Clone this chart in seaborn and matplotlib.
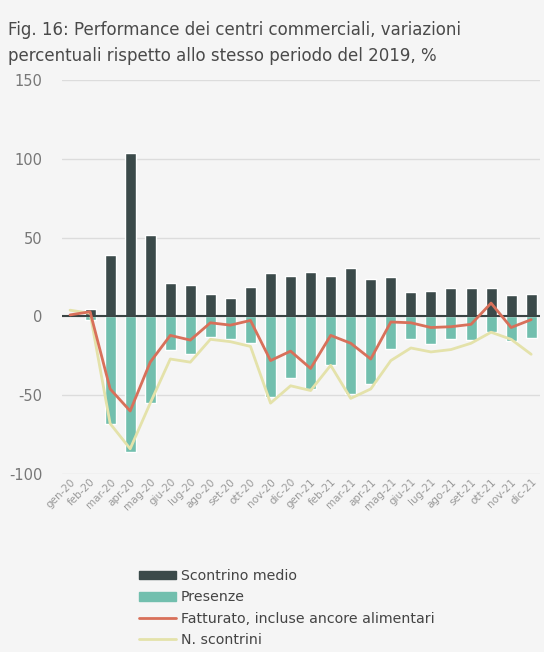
import numpy as np
import pandas as pd
import matplotlib
matplotlib.use("Agg")
import matplotlib.pyplot as plt
import seaborn as sns
from matplotlib.patches import Patch
from matplotlib.lines import Line2D

mesi = ["gen-20", "feb-20", "mar-20", "apr-20", "mag-20", "giu-20", "lug-20", "ago-20",
        "set-20", "ott-20", "nov-20", "dic-20", "gen-21", "feb-21", "mar-21", "apr-21",
        "mag-21", "giu-21", "lug-21", "ago-21", "set-21", "ott-21", "nov-21", "dic-21"]

scontrino_medio = [1, 5, 39, 104, 52, 21.5, 20, 14.5, 12, 19, 27.5, 26,
                   28, 26, 31, 24, 25, 15.5, 16, 18, 18, 18, 13.5, 14.5]
presenze = [0, -2, -68, -86, -55, -21, -24, -13, -14, -17, -51, -39,
            -46, -31, -49, -43, -20.5, -14.5, -17.5, -14.5, -15, -10, -15.5, -13.5]
fatturato = [1, 3, -46, -60, -29, -12, -15, -4, -5.5, -2.5, -28, -22,
             -33, -12, -17, -27, -3.5, -4, -7, -6.5, -5, 8.5, -7, -2]
n_scontrini = [4, 2, -68, -84, -55, -27, -29, -14.5, -16, -19, -55, -44,
               -47, -31, -52, -46, -28, -20, -22.5, -21, -17, -10, -14.5, -24]

df = pd.DataFrame({
    "mese": mesi,
    "Scontrino medio": scontrino_medio,
    "Presenze": presenze,
    "Fatturato": fatturato,
    "N. scontrini": n_scontrini,
})

c_dark = "#3b4a4a"
c_teal = "#72bfae"
c_red = "#d8705a"
c_yel = "#e4e2aa"
bg = "#f5f5f5"

sns.set_style("white")
plt.rcParams["font.family"] = ["DejaVu Sans"]
plt.rcParams["axes.unicode_minus"] = False

fig = plt.figure(figsize=(5.44, 6.52), dpi=100, facecolor=bg)
ax = fig.add_axes([0.114, 0.273, 0.879, 0.604], facecolor=bg)

sns.barplot(data=df, x="mese", y="Scontrino medio", color=c_dark, saturation=1,
            width=0.55, ax=ax, zorder=2)
sns.barplot(data=df, x="mese", y="Presenze", color=c_teal, saturation=1,
            width=0.55, ax=ax, zorder=2)
sns.lineplot(data=df, x="mese", y="Fatturato", color=c_red, lw=2, ax=ax, zorder=4)
sns.lineplot(data=df, x="mese", y="N. scontrini", color=c_yel, lw=2, ax=ax, zorder=3)

ax.set_ylim(-100, 150)
ax.set_xlim(-0.4, 23.45)
ax.set_yticks([-100, -50, 0, 50, 100, 150])
ax.yaxis.grid(True, color="#dcdcdc", lw=1, zorder=0)
ax.axhline(0, color="#3a4444", lw=1.5, zorder=3)
for s in ax.spines.values():
    s.set_visible(False)
ax.set_xlabel("")
ax.set_ylabel("")
ax.tick_params(axis="y", length=0, labelsize=10.5, labelcolor="#777777", pad=14)
ax.tick_params(axis="x", length=0, labelsize=7.5, labelcolor="#999999", pad=2)
plt.setp(ax.get_xticklabels(), rotation=45, ha="right", rotation_mode="anchor")

fig.text(0.015, 0.968, "Fig. 16: Performance dei centri commerciali, variazioni\n"
         "percentuali rispetto allo stesso periodo del 2019, %",
         fontsize=12, color="#4a4a4a", va="top", linespacing=1.55)

handles = [Patch(color=c_dark), Patch(color=c_teal),
           Line2D([], [], color=c_red, lw=2), Line2D([], [], color=c_yel, lw=2)]
labels = ["Scontrino medio", "Presenze", "Fatturato, incluse ancore alimentari", "N. scontrini"]
leg = fig.legend(handles, labels, loc="upper left", bbox_to_anchor=(0.245, 0.136),
                 frameon=False, fontsize=10.2, handlelength=2.6, handleheight=0.6,
                 handletextpad=0.35, labelspacing=0.52, borderaxespad=0)
for t in leg.get_texts():
    t.set_color("#444444")

fig.savefig("out.png", dpi=100, facecolor=bg)
